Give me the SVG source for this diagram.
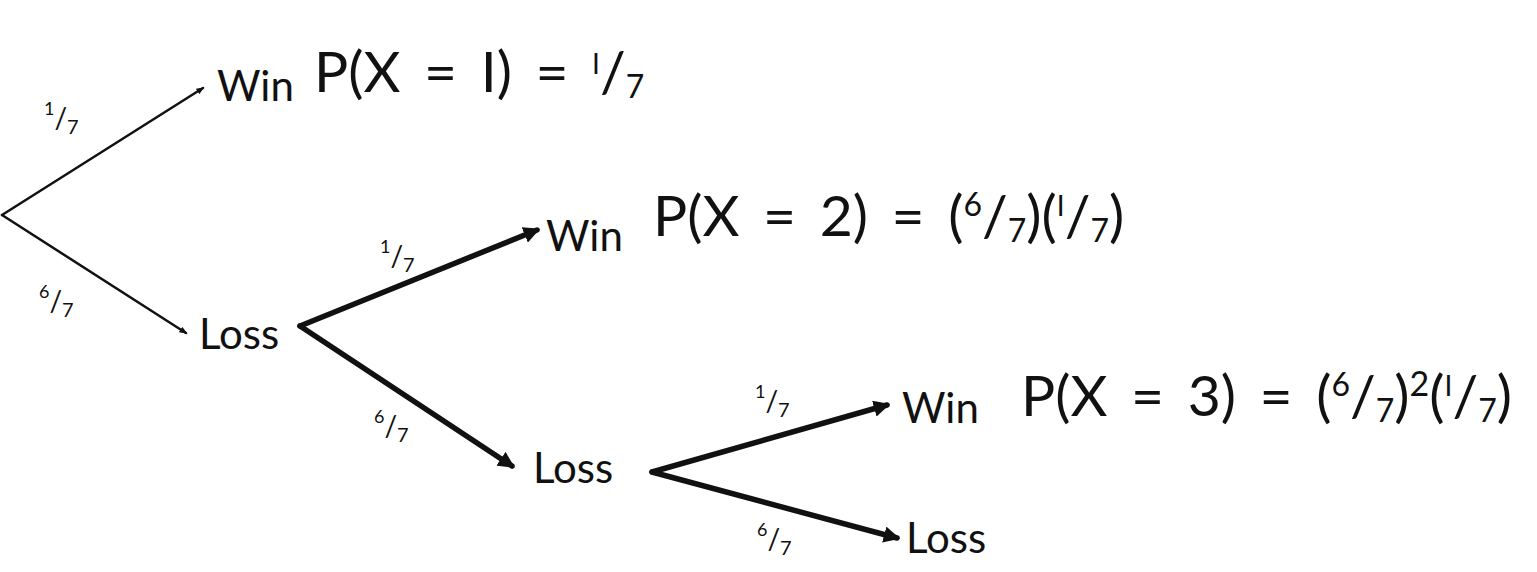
<svg xmlns="http://www.w3.org/2000/svg" width="1537" height="572" viewBox="0 0 1537 572">
<defs>
<style>
.node{font-family:Lato,"Open Sans","Liberation Sans",sans-serif;fill:#111;font-size:42px}
.eq{font-family:Lato,"Open Sans","Liberation Sans",sans-serif;fill:#111;font-size:57px;word-spacing:9px}
.lab{font-family:Lato,"Open Sans","Liberation Sans",sans-serif;fill:#111;font-size:28px}
.thin{stroke:#111;stroke-width:2.5;fill:none;stroke-linecap:round}
.thick{stroke:#111;stroke-width:5.5;fill:none;stroke-linecap:round;stroke-linejoin:round}
</style>
<marker id="ah" viewBox="0 0 10 10" refX="8" refY="5" markerWidth="3" markerHeight="3" orient="auto" markerUnits="strokeWidth">
<path d="M0,0 L10,5 L0,10 z" fill="#111"/>
</marker>
<marker id="ahs" viewBox="0 0 10 10" refX="8" refY="5" markerWidth="3.2" markerHeight="3.2" orient="auto" markerUnits="strokeWidth">
<path d="M0,1 L10,5 L0,9 z" fill="#111"/>
</marker>
</defs>
<rect width="1537" height="572" fill="#fff"/>
<g id="connectors">
<path class="thin" d="M2,215 L203,88" marker-end="url(#ahs)"/>
<path class="thin" d="M2,215 L186,333" marker-end="url(#ahs)"/>
<path class="thick" d="M300,326 L537,230" marker-end="url(#ah)"/>
<path class="thick" d="M300,326 L512,466" marker-end="url(#ah)"/>
<path class="thick" d="M652,472 L887,405" marker-end="url(#ah)"/>
<path class="thick" d="M652,472 L897,538" marker-end="url(#ah)"/>
<text class="lab" x="44" y="128"><tspan font-size="18" dy="-13">1</tspan><tspan dy="13">/</tspan><tspan font-size="20" dy="6">7</tspan></text>
<text class="lab" x="39" y="311"><tspan font-size="18" dy="-13">6</tspan><tspan dy="13">/</tspan><tspan font-size="20" dy="6">7</tspan></text>
<text class="lab" x="380" y="266"><tspan font-size="18" dy="-13">1</tspan><tspan dy="13">/</tspan><tspan font-size="20" dy="6">7</tspan></text>
<text class="lab" x="374" y="436"><tspan font-size="18" dy="-13">6</tspan><tspan dy="13">/</tspan><tspan font-size="20" dy="6">7</tspan></text>
<text class="lab" x="755" y="411"><tspan font-size="18" dy="-13">1</tspan><tspan dy="13">/</tspan><tspan font-size="20" dy="6">7</tspan></text>
<text class="lab" x="757" y="549"><tspan font-size="18" dy="-13">6</tspan><tspan dy="13">/</tspan><tspan font-size="20" dy="6">7</tspan></text>
</g>
<g id="win1"><text class="node" x="217" y="101">Win</text></g>
<g id="loss1"><text class="node" x="199" y="349">Loss</text></g>
<g id="win2"><text class="node" x="546" y="251">Win</text></g>
<g id="loss2"><text class="node" x="533" y="483">Loss</text></g>
<g id="win3"><text class="node" x="902" y="423">Win</text></g>
<g id="loss3"><text class="node" x="906" y="553">Loss</text></g>
<g id="eq1"><text class="eq" x="314" y="92">P(X = I) = <tspan font-size="28" dy="-18">I</tspan><tspan dy="18">/</tspan><tspan font-size="32" dy="6">7</tspan></text></g>
<g id="eq2"><text class="eq" x="653" y="236">P(X = 2) = (<tspan font-size="32" dy="-20">6</tspan><tspan dy="20">/</tspan><tspan font-size="32" dy="6">7</tspan><tspan dy="-6">)(</tspan><tspan font-size="28" dy="-20">I</tspan><tspan dy="20">/</tspan><tspan font-size="32" dy="6">7</tspan><tspan dy="-6">)</tspan></text></g>
<g id="eq3"><text class="eq" x="1021" y="416">P(X = 3) = (<tspan font-size="32" dy="-20">6</tspan><tspan dy="20">/</tspan><tspan font-size="32" dy="6">7</tspan><tspan dy="-6">)</tspan><tspan font-size="34" dy="-20">2</tspan><tspan dy="20">(</tspan><tspan font-size="28" dy="-20">I</tspan><tspan dy="20">/</tspan><tspan font-size="32" dy="6">7</tspan><tspan dy="-6">)</tspan></text></g>
</svg>
